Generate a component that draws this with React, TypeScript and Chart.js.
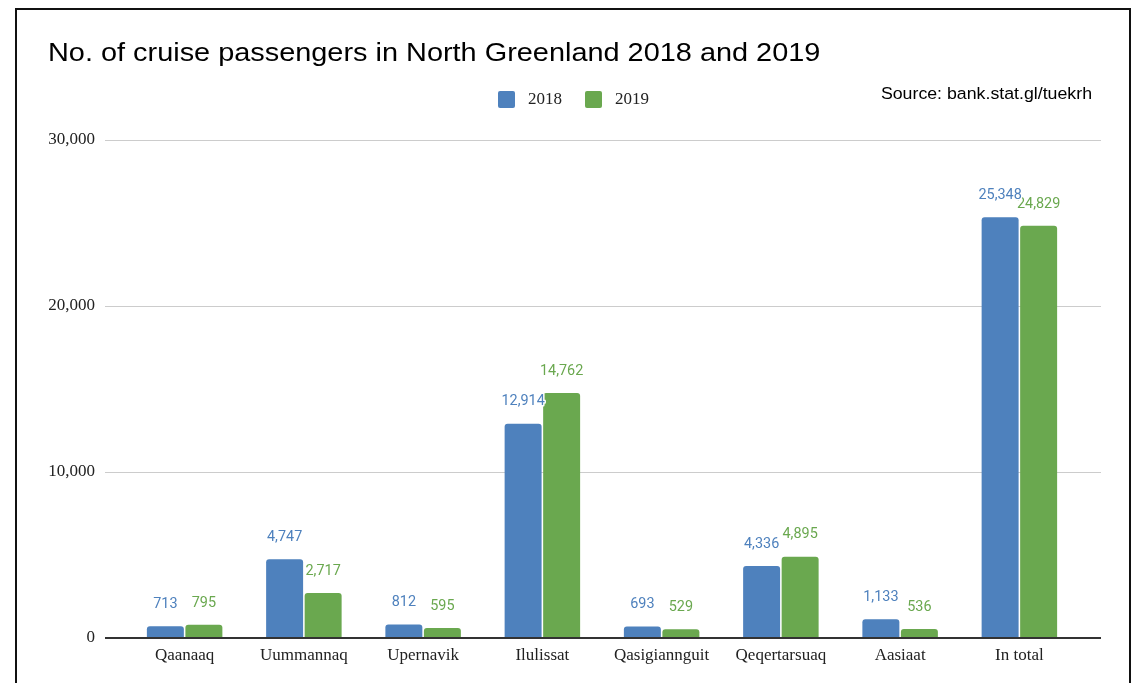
import React, { useEffect, useRef } from "react";
import { Chart, registerables } from "chart.js";

Chart.register(...registerables);

const categories = ["Qaanaaq", "Uummannaq", "Upernavik", "Ilulissat", "Qasigiannguit", "Qeqertarsuaq", "Aasiaat", "In total"];
const values2018 = [713, 4747, 812, 12914, 693, 4336, 1133, 25348];
const values2019 = [795, 2717, 595, 14762, 529, 4895, 536, 24829];
const seriesLabels = ["2018", "2019"];
const seriesColors = ["#4e81bd", "#6aa84f"];
const yTicks = [0, 10000, 20000, 30000];
const titleText = "No. of cruise passengers in North Greenland 2018 and 2019";
const sourceText = "Source: bank.stat.gl/tuekrh";

const W = 1134;
const H = 683;
const SERIF = "'Liberation Serif', 'Times New Roman', serif";
const SANS = "'Liberation Sans', Arial, sans-serif";

const fmt = (v: number) => v.toLocaleString("en-US");

function drawStretched(ctx: any, text: string, x: number, y: number, sx: number, align: "left" | "right") {
  ctx.save();
  ctx.translate(x, y);
  ctx.scale(sx, 1);
  ctx.textAlign = align;
  ctx.fillText(text, 0, 0);
  ctx.restore();
}

const decorPlugin = {
  id: "decor",
  beforeDatasetsDraw(chart: any) {
    const { ctx, chartArea, scales } = chart;
    const y = scales.y;
    ctx.save();
    ctx.strokeStyle = "#cccccc";
    ctx.lineWidth = 1;
    y.ticks.forEach((t: any) => {
      if (t.value === 0) return;
      const py = Math.round(y.getPixelForValue(t.value)) + 0.5;
      ctx.beginPath();
      ctx.moveTo(chartArea.left - 20, py);
      ctx.lineTo(chartArea.right + 22, py);
      ctx.stroke();
    });
    ctx.restore();
  },
  afterDatasetDraw(chart: any, args: any) {
    const { ctx } = chart;
    const ds = chart.data.datasets[args.index];
    const meta = chart.getDatasetMeta(args.index);
    ctx.save();
    ctx.font = "15px Roboto, 'Noto Sans', sans-serif";
    ctx.textBaseline = "middle";
    ctx.lineJoin = "round";
    meta.data.forEach((bar: any, i: number) => {
      const txt = fmt(ds.data[i]);
      const ty = bar.y - 22;
      ctx.save();
      ctx.translate(bar.x, ty);
      ctx.scale(0.96, 1);
      ctx.textAlign = "center";
      ctx.strokeStyle = "#ffffff";
      ctx.lineWidth = 3;
      ctx.strokeText(txt, 0, 0);
      ctx.fillStyle = ds.backgroundColor;
      ctx.fillText(txt, 0, 0);
      ctx.restore();
    });
    ctx.restore();
  },
  afterDraw(chart: any) {
    const { ctx, chartArea, scales } = chart;
    const y = scales.y;
    ctx.save();
    // baseline
    const by = y.getPixelForValue(0);
    ctx.strokeStyle = "#333333";
    ctx.lineWidth = 2;
    ctx.beginPath();
    ctx.moveTo(chartArea.left - 20, by);
    ctx.lineTo(chartArea.right + 22, by);
    ctx.stroke();

    // title
    ctx.fillStyle = "#000000";
    ctx.font = "26.5px " + SANS;
    ctx.textBaseline = "alphabetic";
    drawStretched(ctx, titleText, 48, 61, 1.09, "left");

    // source
    ctx.font = "16.3px " + SANS;
    drawStretched(ctx, sourceText, 1092, 99, 1.09, "right");

    // legend
    let x = 498;
    ctx.font = "17px " + SERIF;
    ctx.textAlign = "left";
    ctx.textBaseline = "middle";
    chart.data.datasets.forEach((ds: any) => {
      ctx.fillStyle = ds.backgroundColor;
      ctx.beginPath();
      (ctx as any).roundRect(x, 91, 17, 17, 2);
      ctx.fill();
      ctx.fillStyle = "#222222";
      ctx.fillText(ds.label, x + 30, 100);
      x += 30 + ctx.measureText(ds.label).width + 23;
    });

    // frame
    ctx.strokeStyle = "#111111";
    ctx.lineWidth = 2;
    ctx.beginPath();
    ctx.moveTo(16, H + 10);
    ctx.lineTo(16, 9);
    ctx.lineTo(1130, 9);
    ctx.lineTo(1130, H + 10);
    ctx.stroke();
    ctx.restore();
  },
};

export default function App() {
  const ref = useRef<HTMLCanvasElement>(null);
  useEffect(() => {
    if (!ref.current) return;
    const chart = new Chart(ref.current, {
      type: "bar",
      data: {
        labels: categories,
        datasets: [
          {
            label: seriesLabels[0],
            data: values2018,
            backgroundColor: seriesColors[0],
            borderRadius: 3,
            categoryPercentage: 0.646,
            barPercentage: 0.96,
          },
          {
            label: seriesLabels[1],
            data: values2019,
            backgroundColor: seriesColors[1],
            borderRadius: 3,
            categoryPercentage: 0.646,
            barPercentage: 0.96,
          },
        ],
      },
      options: {
        responsive: false,
        devicePixelRatio: 1,
        animation: false,
        events: [],
        layout: { padding: { top: 140, right: 55, bottom: 0, left: 0 } },
        plugins: {
          legend: { display: false },
          title: { display: false },
          tooltip: { enabled: false },
        },
        scales: {
          x: {
            grid: { display: false, drawTicks: false },
            border: { display: false },
            ticks: {
              font: { family: SERIF, size: 17 },
              color: "#222222",
              padding: 7,
              maxRotation: 0,
              autoSkip: false,
            },
            afterFit: (s: any) => {
              s.height = 45;
            },
          },
          y: {
            min: 0,
            max: 30000,
            grid: { display: false, drawTicks: false },
            border: { display: false },
            afterBuildTicks: (s: any) => {
              s.ticks = yTicks.map((v) => ({ value: v }));
            },
            ticks: {
              font: { family: SERIF, size: 17 },
              color: "#222222",
              padding: 30,
              callback: (v: any) => fmt(Number(v)),
            },
            afterFit: (s: any) => {
              s.width = 125;
            },
          },
        },
      },
      plugins: [decorPlugin],
    });
    return () => chart.destroy();
  }, []);

  return (
    <div style={{ position: "fixed", left: 0, top: 0, width: W, height: H, background: "#fff" }}>
      <canvas ref={ref} width={W} height={H} style={{ display: "block", width: W, height: H }} />
    </div>
  );
}
